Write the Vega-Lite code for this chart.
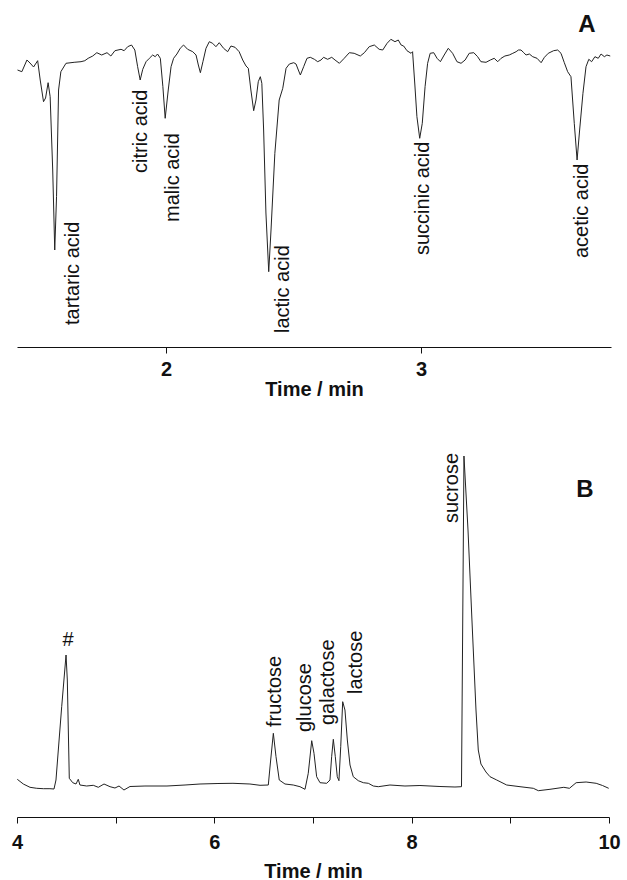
{
  "$schema": "https://vega.github.io/schema/vega-lite/v6.json",
  "background": "white",
  "padding": {"left": 11, "top": 7, "right": 0, "bottom": 0},
  "bounds": "flush",
  "spacing": 90,
  "config": {"view": {"stroke": null}, "font": "Liberation Sans"},
  "datasets": {
    "traceA": [
      {"time":1.418,"signal":277},{"time":1.435,"signal":275.3},{"time":1.455,"signal":287},{"time":1.467,"signal":284},{"time":1.481,"signal":280},{"time":1.497,"signal":286.3},{"time":1.507,"signal":267},{"time":1.520,"signal":245.3},{"time":1.528,"signal":249},{"time":1.538,"signal":264.3},{"time":1.546,"signal":250.3},{"time":1.556,"signal":177},{"time":1.564,"signal":97},{"time":1.571,"signal":150.3},{"time":1.579,"signal":257},{"time":1.588,"signal":275.3},{"time":1.608,"signal":283.7},{"time":1.640,"signal":284.7},{"time":1.667,"signal":285.3},{"time":1.682,"signal":286.3},{"time":1.695,"signal":288.7},{"time":1.713,"signal":291},{"time":1.729,"signal":294.3},{"time":1.748,"signal":292},{"time":1.769,"signal":294.3},{"time":1.784,"signal":291},{"time":1.800,"signal":296.3},{"time":1.824,"signal":297.7},{"time":1.836,"signal":296.3},{"time":1.850,"signal":300.3},{"time":1.865,"signal":302},{"time":1.878,"signal":297},{"time":1.889,"signal":280.3},{"time":1.899,"signal":267},{"time":1.909,"signal":277.7},{"time":1.922,"signal":285.3},{"time":1.935,"signal":288.7},{"time":1.948,"signal":292},{"time":1.958,"signal":290.3},{"time":1.967,"signal":293},{"time":1.978,"signal":288.7},{"time":1.988,"signal":260.3},{"time":1.997,"signal":228.7},{"time":2.009,"signal":257},{"time":2.020,"signal":280.3},{"time":2.030,"signal":288.7},{"time":2.043,"signal":293},{"time":2.056,"signal":298.7},{"time":2.069,"signal":302},{"time":2.085,"signal":297.7},{"time":2.105,"signal":295.3},{"time":2.118,"signal":292},{"time":2.127,"signal":282},{"time":2.135,"signal":274.3},{"time":2.145,"signal":285.3},{"time":2.157,"signal":298.7},{"time":2.170,"signal":305.3},{"time":2.183,"signal":303.7},{"time":2.196,"signal":300.3},{"time":2.209,"signal":304.3},{"time":2.226,"signal":298.7},{"time":2.242,"signal":295.3},{"time":2.255,"signal":301},{"time":2.271,"signal":299.7},{"time":2.287,"signal":295.3},{"time":2.301,"signal":287},{"time":2.314,"signal":281},{"time":2.323,"signal":278.7},{"time":2.333,"signal":257},{"time":2.344,"signal":236.3},{"time":2.353,"signal":247},{"time":2.362,"signal":265.3},{"time":2.370,"signal":270.3},{"time":2.376,"signal":263.7},{"time":2.383,"signal":217},{"time":2.392,"signal":134},{"time":2.403,"signal":75.3},{"time":2.412,"signal":117},{"time":2.427,"signal":193.7},{"time":2.444,"signal":247},{"time":2.458,"signal":258.7},{"time":2.471,"signal":278.7},{"time":2.484,"signal":283},{"time":2.501,"signal":284.3},{"time":2.510,"signal":283},{"time":2.519,"signal":277},{"time":2.527,"signal":272},{"time":2.540,"signal":280.3},{"time":2.553,"signal":288.7},{"time":2.566,"signal":289.7},{"time":2.582,"signal":287.7},{"time":2.595,"signal":285.3},{"time":2.608,"signal":287},{"time":2.618,"signal":289.7},{"time":2.634,"signal":287.7},{"time":2.650,"signal":289.7},{"time":2.663,"signal":287},{"time":2.680,"signal":283.7},{"time":2.699,"signal":288.7},{"time":2.719,"signal":294.3},{"time":2.738,"signal":293.7},{"time":2.762,"signal":291},{"time":2.778,"signal":294.3},{"time":2.797,"signal":300.3},{"time":2.817,"signal":302},{"time":2.836,"signal":297.7},{"time":2.850,"signal":297},{"time":2.867,"signal":303.7},{"time":2.882,"signal":307.7},{"time":2.898,"signal":305.3},{"time":2.911,"signal":307},{"time":2.922,"signal":302},{"time":2.932,"signal":301},{"time":2.945,"signal":296.3},{"time":2.961,"signal":293.7},{"time":2.967,"signal":295.3},{"time":2.976,"signal":262},{"time":2.984,"signal":230.3},{"time":2.995,"signal":208.7},{"time":3.005,"signal":223.7},{"time":3.016,"signal":260.3},{"time":3.026,"signal":283.7},{"time":3.036,"signal":293.7},{"time":3.050,"signal":294.3},{"time":3.063,"signal":288.7},{"time":3.076,"signal":285.3},{"time":3.091,"signal":292},{"time":3.107,"signal":298.7},{"time":3.124,"signal":293.7},{"time":3.141,"signal":285.3},{"time":3.157,"signal":283.7},{"time":3.173,"signal":287},{"time":3.189,"signal":293.7},{"time":3.207,"signal":294.3},{"time":3.222,"signal":290.3},{"time":3.235,"signal":285.3},{"time":3.255,"signal":284.7},{"time":3.272,"signal":287},{"time":3.287,"signal":288.7},{"time":3.301,"signal":285.3},{"time":3.314,"signal":288.7},{"time":3.329,"signal":291},{"time":3.346,"signal":292},{"time":3.360,"signal":293.7},{"time":3.373,"signal":295.3},{"time":3.382,"signal":297},{"time":3.392,"signal":297},{"time":3.403,"signal":294.3},{"time":3.412,"signal":292},{"time":3.425,"signal":293},{"time":3.438,"signal":290.3},{"time":3.455,"signal":288.7},{"time":3.471,"signal":284.3},{"time":3.484,"signal":289.7},{"time":3.499,"signal":293.7},{"time":3.520,"signal":296.3},{"time":3.536,"signal":297},{"time":3.549,"signal":293.7},{"time":3.562,"signal":284.3},{"time":3.575,"signal":275.3},{"time":3.588,"signal":270.3},{"time":3.601,"signal":223.7},{"time":3.612,"signal":187},{"time":3.622,"signal":217},{"time":3.635,"signal":253.7},{"time":3.647,"signal":280.3},{"time":3.658,"signal":287.7},{"time":3.669,"signal":285.3},{"time":3.682,"signal":290.3},{"time":3.695,"signal":288.7},{"time":3.706,"signal":293},{"time":3.719,"signal":290.3},{"time":3.729,"signal":292},{"time":3.742,"signal":291}
    ],
    "labelsA": [
      {"time":1.635,"signal":22,"label":"tartaric acid"},
      {"time":1.902,"signal":174,"label":"citric acid"},
      {"time":2.027,"signal":125,"label":"malic acid"},
      {"time":2.459,"signal":14,"label":"lactic acid"},
      {"time":3.008,"signal":92,"label":"succinic acid"},
      {"time":3.631,"signal":89,"label":"acetic acid"}
    ],
    "panelA": [{"time":3.651,"signal":322,"label":"A"}],
    "traceB": [
      {"time":4.003,"signal":37.7},{"time":4.064,"signal":33},{"time":4.132,"signal":29.7},{"time":4.200,"signal":28.7},{"time":4.267,"signal":28.3},{"time":4.334,"signal":28.3},{"time":4.375,"signal":28},{"time":4.395,"signal":37},{"time":4.453,"signal":110.3},{"time":4.497,"signal":162},{"time":4.510,"signal":137},{"time":4.530,"signal":38.7},{"time":4.565,"signal":34.3},{"time":4.598,"signal":33},{"time":4.621,"signal":37.7},{"time":4.638,"signal":32},{"time":4.706,"signal":31},{"time":4.773,"signal":31.7},{"time":4.824,"signal":29.7},{"time":4.882,"signal":33},{"time":4.943,"signal":30.3},{"time":4.993,"signal":29},{"time":5.034,"signal":31},{"time":5.084,"signal":27},{"time":5.145,"signal":30.5},{"time":5.297,"signal":31},{"time":5.520,"signal":31},{"time":5.703,"signal":32},{"time":5.855,"signal":33},{"time":6.037,"signal":33.5},{"time":6.189,"signal":33.7},{"time":6.361,"signal":33},{"time":6.463,"signal":31.7},{"time":6.547,"signal":32},{"time":6.571,"signal":57},{"time":6.598,"signal":83.7},{"time":6.625,"signal":60.3},{"time":6.658,"signal":37},{"time":6.716,"signal":33},{"time":6.800,"signal":32},{"time":6.868,"signal":30.3},{"time":6.919,"signal":27.7},{"time":6.952,"signal":43.7},{"time":6.987,"signal":76.3},{"time":7.010,"signal":63.7},{"time":7.037,"signal":40.3},{"time":7.071,"signal":34.3},{"time":7.139,"signal":33.7},{"time":7.172,"signal":37},{"time":7.189,"signal":60.3},{"time":7.206,"signal":77.7},{"time":7.226,"signal":60.3},{"time":7.246,"signal":40.3},{"time":7.263,"signal":36.3},{"time":7.281,"signal":70.3},{"time":7.301,"signal":115.3},{"time":7.324,"signal":107},{"time":7.348,"signal":77},{"time":7.375,"signal":52},{"time":7.408,"signal":40.3},{"time":7.459,"signal":36.3},{"time":7.510,"signal":34.3},{"time":7.561,"signal":33.7},{"time":7.611,"signal":31},{"time":7.662,"signal":30.3},{"time":7.780,"signal":32},{"time":7.932,"signal":31},{"time":8.084,"signal":31.5},{"time":8.287,"signal":30.5},{"time":8.439,"signal":30},{"time":8.505,"signal":30.3},{"time":8.530,"signal":361},{"time":8.571,"signal":287},{"time":8.611,"signal":197},{"time":8.652,"signal":107},{"time":8.675,"signal":67},{"time":8.702,"signal":53},{"time":8.753,"signal":45},{"time":8.794,"signal":40.3},{"time":8.862,"signal":37},{"time":8.963,"signal":32},{"time":9.098,"signal":30.3},{"time":9.233,"signal":28.7},{"time":9.284,"signal":26.3},{"time":9.402,"signal":27.7},{"time":9.542,"signal":29.7},{"time":9.599,"signal":28.7},{"time":9.667,"signal":34.3},{"time":9.768,"signal":35},{"time":9.870,"signal":33.7},{"time":9.934,"signal":31.5},{"time":9.997,"signal":28.7}
    ],
    "labelsB": [
      {"time":6.615,"signal":90,"label":"fructose"},
      {"time":6.919,"signal":85,"label":"glucose"},
      {"time":7.152,"signal":92,"label":"galactose"},
      {"time":7.436,"signal":123,"label":"lactose"},
      {"time":8.409,"signal":294,"label":"sucrose"}
    ],
    "hashB": [{"time":4.517,"signal":177,"label":"#"}],
    "panelB": [{"time":9.757,"signal":327,"label":"B"}]
  },
  "vconcat": [
    {
      "width": 594,
      "height": 340,
      "encoding": {
        "x": {"field": "time", "type": "quantitative",
              "scale": {"domain": [1.416, 3.745], "nice": false, "zero": false},
              "axis": {"values": [2, 3], "format": "d", "title": "Time / min", "grid": false,
                       "labelFontSize": 20, "labelFontWeight": "bold", "labelColor": "#111", "labelPadding": 6,
                       "titleFontSize": 20, "titleFontWeight": "bold", "titleColor": "#111", "titlePadding": 0,
                       "tickSize": 6, "tickColor": "#111", "domainColor": "#111", "labelFlush": false}},
        "y": {"field": "signal", "type": "quantitative", "scale": {"domain": [0, 340]}, "axis": null}
      },
      "layer": [
        {"data": {"name": "traceA"}, "mark": {"type": "line", "color": "#222", "strokeWidth": 1}},
        {"data": {"name": "labelsA"}, "mark": {"type": "text", "angle": 270, "align": "left", "baseline": "middle", "fontSize": 20, "color": "#111"},
         "encoding": {"text": {"field": "label"}}},
        {"data": {"name": "panelA"}, "mark": {"type": "text", "align": "center", "baseline": "middle", "fontSize": 24, "fontWeight": "bold", "color": "#111"},
         "encoding": {"text": {"field": "label"}}}
      ]
    },
    {
      "width": 592,
      "height": 380,
      "encoding": {
        "x": {"field": "time", "type": "quantitative",
              "scale": {"domain": [4, 10], "nice": false, "zero": false},
              "axis": {"values": [4, 5, 6, 7, 8, 9, 10], "format": "d", "labelExpr": "datum.value % 2 == 0 ? datum.label : ''",
                       "title": "Time / min", "grid": false,
                       "labelFontSize": 20, "labelFontWeight": "bold", "labelColor": "#111", "labelPadding": 9,
                       "titleFontSize": 20, "titleFontWeight": "bold", "titleColor": "#111", "titlePadding": 9,
                       "tickSize": 6, "tickColor": "#111", "domainColor": "#111", "labelFlush": false}},
        "y": {"field": "signal", "type": "quantitative", "scale": {"domain": [0, 380]}, "axis": null}
      },
      "layer": [
        {"data": {"name": "traceB"}, "mark": {"type": "line", "color": "#222", "strokeWidth": 1}},
        {"data": {"name": "labelsB"}, "mark": {"type": "text", "angle": 270, "align": "left", "baseline": "middle", "fontSize": 20, "color": "#111"},
         "encoding": {"text": {"field": "label"}}},
        {"data": {"name": "hashB"}, "mark": {"type": "text", "align": "center", "baseline": "middle", "fontSize": 20, "color": "#111"},
         "encoding": {"text": {"field": "label"}}},
        {"data": {"name": "panelB"}, "mark": {"type": "text", "align": "center", "baseline": "middle", "fontSize": 24, "fontWeight": "bold", "color": "#111"},
         "encoding": {"text": {"field": "label"}}}
      ]
    }
  ]
}
